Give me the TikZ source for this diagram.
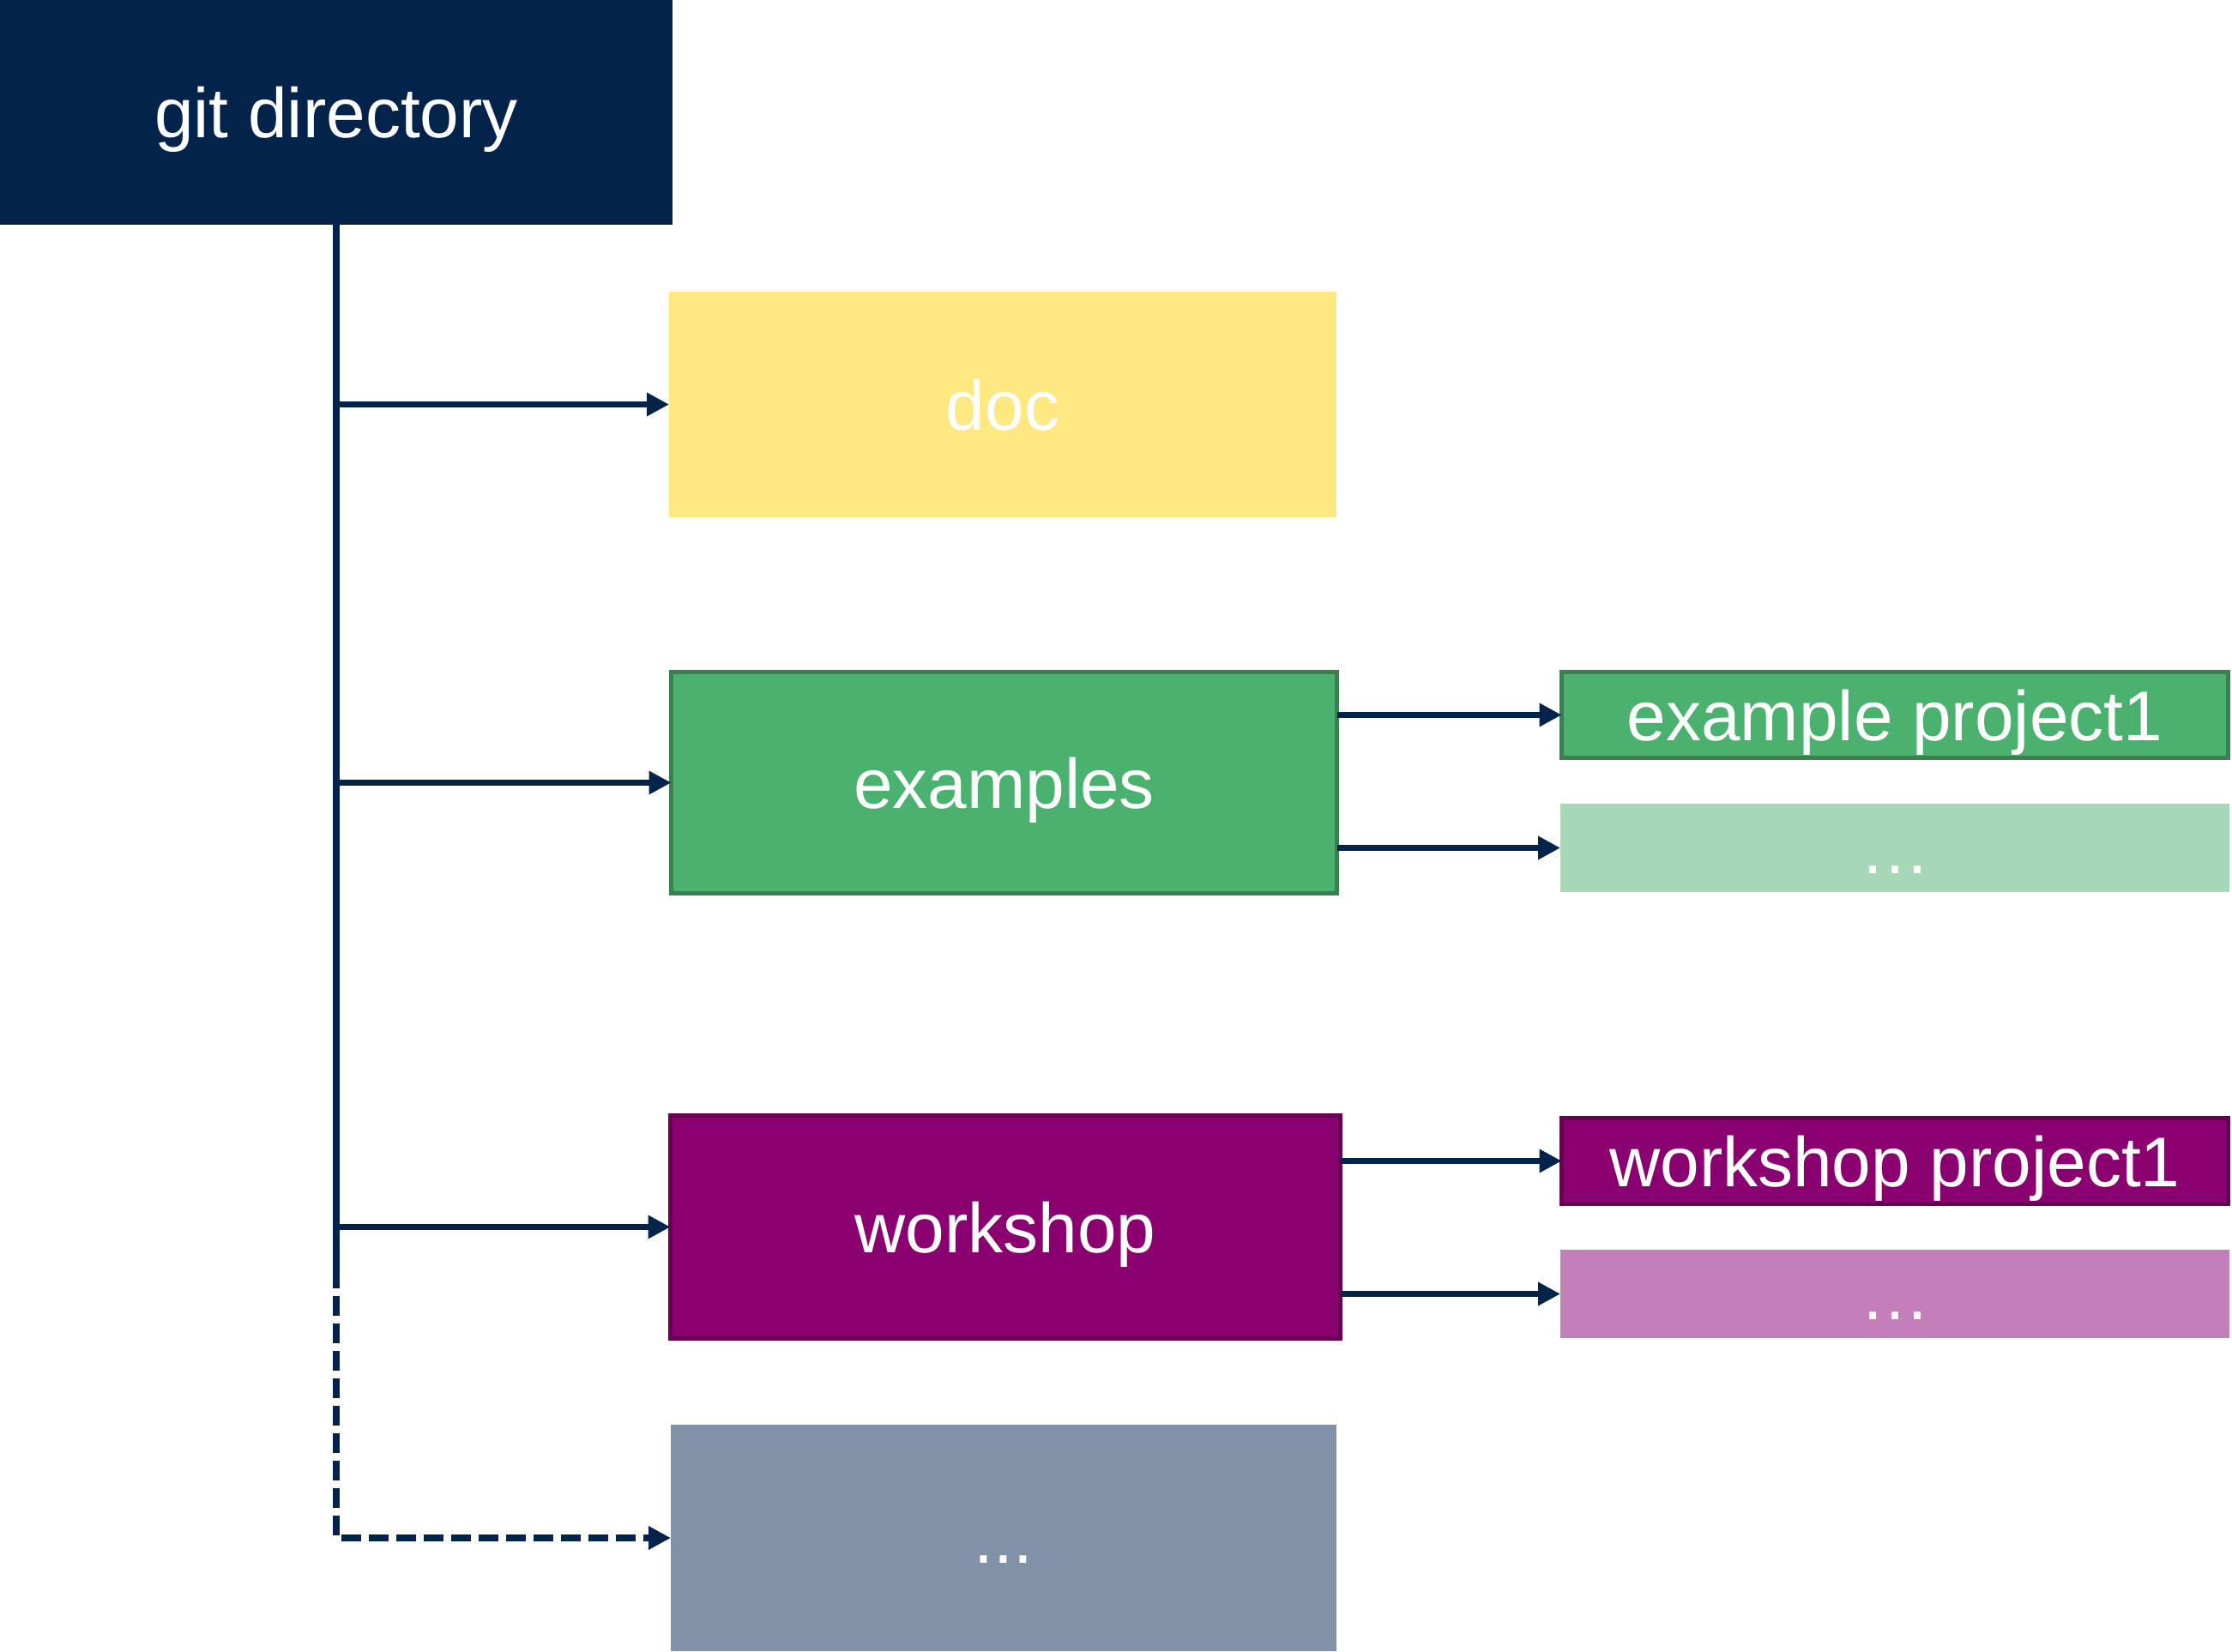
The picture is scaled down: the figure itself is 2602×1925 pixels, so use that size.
\documentclass[tikz,border=0pt]{standalone}
\usepackage{fontspec}
\setmainfont{Liberation Sans}
\usetikzlibrary{arrows.meta}
\definecolor{navy}{HTML}{03234B}
\definecolor{docyellow}{HTML}{FFE882}
\definecolor{exgreen}{HTML}{4BB16F}
\definecolor{exgreenborder}{HTML}{3A7F52}
\definecolor{exlight}{HTML}{A6D8B7}
\definecolor{wspurple}{HTML}{8B0070}
\definecolor{wsborder}{HTML}{660052}
\definecolor{wslight}{HTML}{C47FBA}
\definecolor{othergrey}{HTML}{8191A8}
\tikzset{
  box/.style={rectangle, inner sep=0pt, outer sep=0pt, text=white,
    font=\fontsize{82}{96}\selectfont, text height=59pt, text depth=0pt},
  bordered/.style={box, draw, line width=5pt},
  conn/.style={draw=navy, line width=7.5pt, -{Triangle[length=26pt,width=26pt]}},
  trunkline/.style={draw=navy, line width=7.5pt},
  dashline/.style={dash pattern=on 23pt off 9pt}
}
\begin{document}
\begin{tikzpicture}[x=1pt,y=-1pt]
\useasboundingbox (0,0) rectangle (2602,1925);
% boxes
\node[box, fill=navy, minimum width=784pt, minimum height=262pt] (git) at (392,131) {git directory};
\node[box, fill=docyellow, minimum width=778pt, minimum height=263pt] (doc) at (1169,471.5) {doc};
\node[bordered, fill=exgreen, draw=exgreenborder, minimum width=776pt, minimum height=258pt] (examples) at (1170.5,912.5) {examples};
\node[bordered, fill=wspurple, draw=wsborder, minimum width=781pt, minimum height=260pt] (workshop) at (1172,1430.5) {workshop};
\node[box, fill=othergrey, minimum width=776pt, minimum height=264pt] (other) at (1170,1793) {...};
\node[bordered, fill=exgreen, draw=exgreenborder, minimum width=777pt, minimum height=100pt] (ep1) at (2209,833.5) {example project1};
\node[box, fill=exlight, minimum width=780pt, minimum height=103pt] (exmore) at (2209,988.5) {…};
\node[bordered, fill=wspurple, draw=wsborder, minimum width=777pt, minimum height=100pt] (wp1) at (2209,1353.5) {workshop project1};
\node[box, fill=wslight, minimum width=780pt, minimum height=103pt] (wsmore) at (2209,1508.5) {…};
% trunk
\coordinate (trunkend) at (392,1479);
\draw[trunkline] (git.south) -- (trunkend);
\draw[conn, dashline] (trunkend) |- (other.west);
% branches
\draw[conn] (git.south |- doc.west) -- (doc.west);
\draw[conn] (git.south |- examples.west) -- (examples.west);
\draw[conn] (git.south |- workshop.west) -- (workshop.west);
\draw[conn] (examples.east |- ep1.west) -- (ep1.west);
\draw[conn] (examples.east |- exmore.west) -- (exmore.west);
\draw[conn] (workshop.east |- wp1.west) -- (wp1.west);
\draw[conn] (workshop.east |- wsmore.west) -- (wsmore.west);
\end{tikzpicture}
\end{document}
